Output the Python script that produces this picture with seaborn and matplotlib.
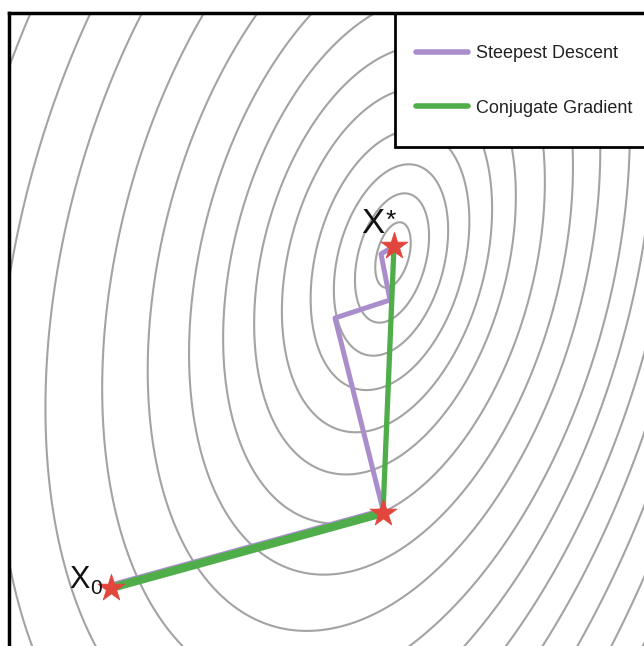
import numpy as np
import matplotlib
matplotlib.use("Agg")
import matplotlib.pyplot as plt
import seaborn as sns
from matplotlib.lines import Line2D
from matplotlib.patches import Rectangle

sns.set_theme(style="white")
plt.rcParams['font.family'] = ['Liberation Sans', 'DejaVu Sans']

# ---- data (plane coordinates, y grows downward) ----
steepest_x = [111, 383, 335, 390, 381, 394]
steepest_y = [585, 510, 318, 300, 254, 246]
conjugate_x = [111, 383, 394]
conjugate_y = [588, 513, 246]
star_x = [111, 383, 394]
star_y = [588, 513, 246]
# nested level sets: half-width and centre of each ellipse
contour_halfwidth = [16, 34, 53, 74, 98, 122, 150, 179, 211, 246, 284, 319, 358,
                     400, 445, 492, 542]
contour_center_x = [393, 392, 391, 390, 387, 385, 384, 381, 374, 366, 350, 339, 323,
                    305, 285, 262, 238]
contour_center_y = [255, 258, 260, 260, 260, 260, 260, 260, 260, 260, 260, 260, 260,
                    260, 260, 260, 260]
contour_aspect = [2.1, 1.95, 1.85, 1.8, 1.8, 1.8, 1.8, 1.8, 1.8, 1.8, 1.8, 1.8, 1.8,
                  1.8, 1.8, 1.8, 1.8]
legend_labels = ["Steepest Descent", "Conjugate Gradient"]

# ---- style ----
purple = "#a98ecb"
green = "#4fae4a"
red = "#e2453b"
gray = "#a3a3a3"

W, H = 644, 646
fig = plt.figure(figsize=(W / 100, H / 100), dpi=100)
ax = fig.add_axes([9 / W, 0, (W - 9) / W, (H - 13) / H])
ax.set_xlim(9, W)
ax.set_ylim(H, 13)

gx, gy = np.meshgrid(np.linspace(-50, 720, 900), np.linspace(-50, 720, 900))
phi = np.deg2rad(15)
for a, cx, cy, r in zip(contour_halfwidth, contour_center_x, contour_center_y,
                        contour_aspect):
    b = a * r
    X = gx - cx
    Y = -(gy - cy)
    u = X * np.cos(phi) - Y * np.sin(phi)
    v = X * np.sin(phi) + Y * np.cos(phi)
    g = (u / a) ** 2 + (v / b) ** 2
    ax.contour(gx, gy, g, levels=[1.0], colors=gray, linewidths=1.5, zorder=1)

# paths
sns.lineplot(x=steepest_x, y=steepest_y, sort=False, color=purple, lw=3.6,
             ax=ax, zorder=3)
sns.lineplot(x=conjugate_x[:2], y=conjugate_y[:2], sort=False, color=green, lw=6,
             ax=ax, zorder=4)
sns.lineplot(x=conjugate_x[1:], y=conjugate_y[1:], sort=False, color=green, lw=3.8,
             ax=ax, zorder=4)
sns.scatterplot(x=star_x, y=star_y, marker="*", s=420, color=red, edgecolor=red,
                linewidth=0.5, ax=ax, zorder=5)

# labels
ax.text(373, 233, "X", fontsize=25, ha="center", va="baseline",
        color="#111111", zorder=6)
ax.text(391, 228, "*", fontsize=19, ha="center", va="baseline",
        color="#111111", zorder=6)
ax.text(80, 588, "X", fontsize=22, ha="center", va="baseline",
        color="#111111", zorder=6)
ax.text(96, 594, "0", fontsize=15, ha="center", va="baseline",
        color="#111111", zorder=6)

# legend with a square black box reaching the right edge
ax.add_patch(Rectangle((395, 13), 270, 134, facecolor="white", edgecolor="black",
                       lw=2, zorder=6, clip_on=False))
handles = [Line2D([], [], color=purple, lw=4), Line2D([], [], color=green, lw=4)]
leg = ax.legend(handles, legend_labels, loc="center left",
                bbox_to_anchor=(416, 81), bbox_transform=ax.transData,
                fontsize=13, frameon=False, borderpad=0, labelspacing=2.05,
                handlelength=2.9, handletextpad=0.4, borderaxespad=0)
leg.set_zorder(7)
for t in leg.get_texts():
    t.set_color("#222222")

for sp in ["right", "bottom"]:
    ax.spines[sp].set_visible(False)
for sp in ["left", "top"]:
    ax.spines[sp].set_color("black")
    ax.spines[sp].set_linewidth(2.5)
    ax.spines[sp].set_zorder(8)
ax.set_xticks([])
ax.set_yticks([])
ax.set_xlabel("")
ax.set_ylabel("")

fig.savefig("out.png", dpi=100)
